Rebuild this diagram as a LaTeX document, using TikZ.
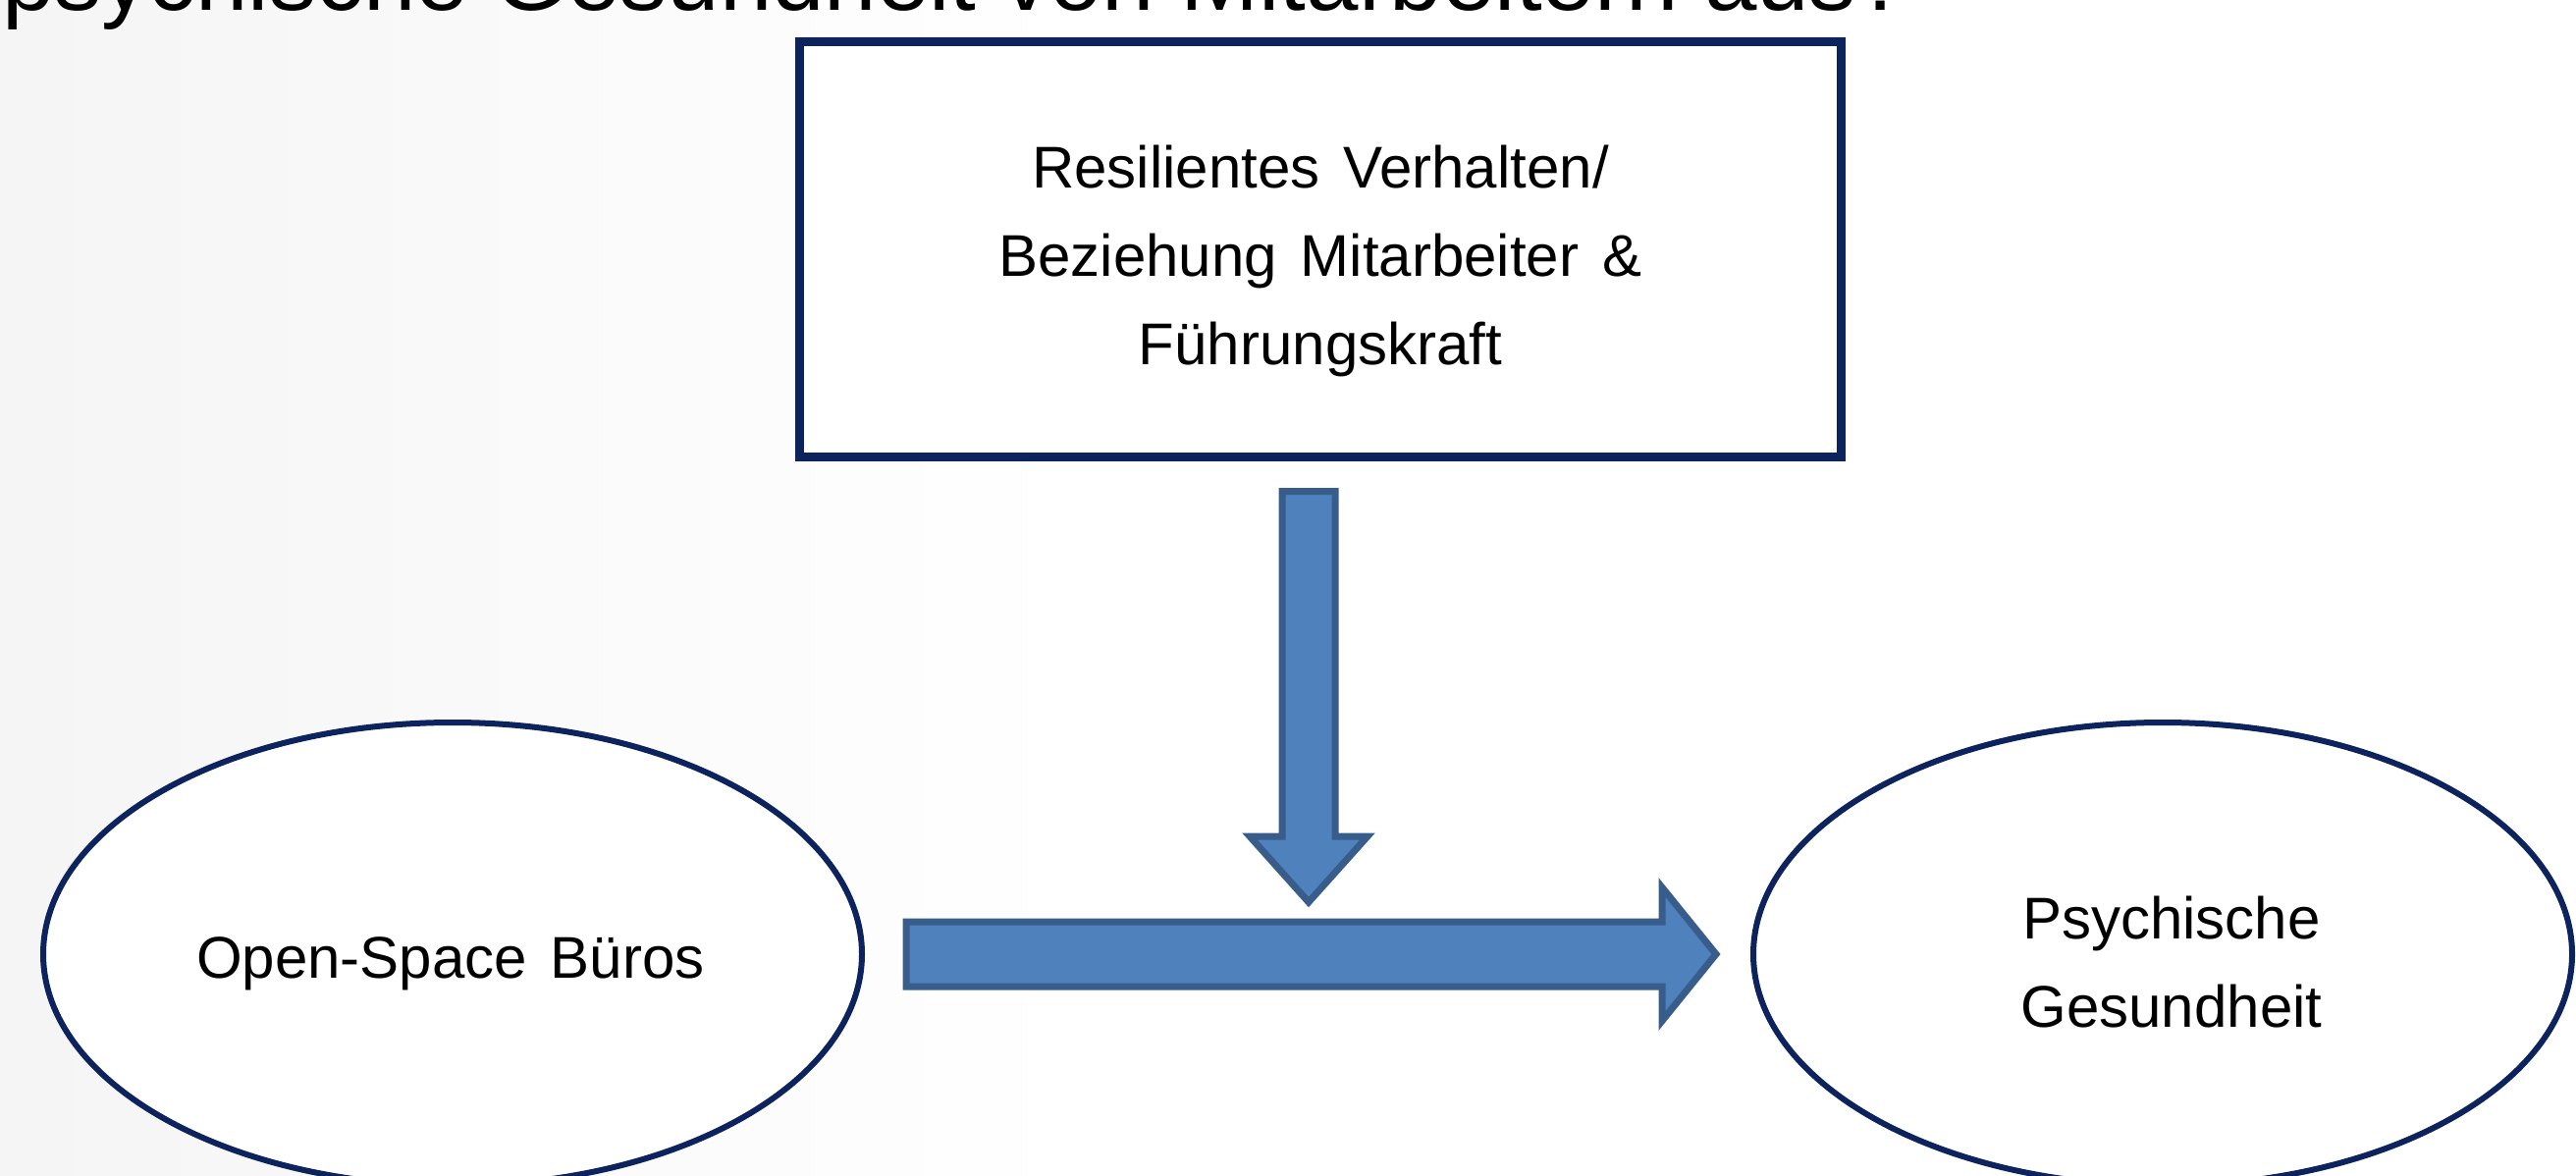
\documentclass[tikz,border=0pt]{standalone}
\usepackage{fontspec}
\setmainfont{Liberation Sans}
\usetikzlibrary{calc,shapes.geometric}
\definecolor{navy}{RGB}{12,35,94}
\definecolor{arrowfill}{HTML}{4F81BD}
\definecolor{arrowline}{HTML}{385D8A}
\newcommand\widespaces{\spaceskip 0.4em plus 0.1em\relax}
\newcommand\lblfont{\fontsize{60pt}{90pt}\selectfont\widespaces}
\newcommand\titlefont{\fontsize{96pt}{110pt}\selectfont}
% #1 start, #2 tip, #3 half shaft width, #4 half head width, #5 head length
\newcommand\blockarrow[5]{%
  \path (#1) coordinate (ba-s) (#2) coordinate (ba-e)
        ($(#2)!#5!(#1)$) coordinate (ba-h);
  \draw[blockarrowstyle]
    ($(ba-s)!#3!90:(ba-e)$) -- ($(ba-h)!#3!-90:(ba-s)$) --
    ($(ba-h)!#4!-90:(ba-s)$) -- (ba-e) --
    ($(ba-h)!#4!90:(ba-s)$) -- ($(ba-h)!#3!90:(ba-s)$) --
    ($(ba-s)!#3!-90:(ba-e)$) -- cycle;}
\begin{document}
\begin{tikzpicture}[x=1pt,y=-1pt,
  lbl/.style={font=\lblfont, align=center, inner sep=0pt, text=black},
  boxstyle/.style={draw=navy, line width=9pt, rectangle, fill=white,
                   minimum width=1061pt, minimum height=423pt,
                   inner sep=0pt, outer sep=0pt},
  ellstyle/.style={draw=navy, line width=6pt, ellipse, fill=white,
                   minimum width=834pt, minimum height=472pt,
                   inner sep=0pt, outer sep=0pt},
  blockarrowstyle/.style={fill=arrowfill, draw=arrowline, line width=7pt,
                          line join=miter},
  titlestyle/.style={font=\titlefont, inner sep=0pt,
                     anchor=base west, text=black}]
\useasboundingbox (0,0) rectangle (2624,1198);
\clip (0,0) rectangle (2624,1198);
\fill[white] (0,0) rectangle (2624,1198);
\shade[left color=black!4, right color=white] (0,0) rectangle (1100,1198);

% title (cut off at the top)
\node[titlestyle] (title) at (2,11) {psychische Gesundheit von Mitarbeitern aus?};

% nodes
\node[boxstyle] (box) at (1345,254) {};
\node[lbl] (boxlabel) at (1345,266)
  {Resilientes Verhalten/\\Beziehung Mitarbeiter \&\\Führungskraft};

\node[ellstyle] (left) at (461,972) {};
\node[lbl] (leftlabel) at (459,982) {Open-Space Büros};

\node[ellstyle] (right) at (2203,972) {};
\node[lbl] (rightlabel) at (2212,980) {Psychische\\Gesundheit};

% connectors
\coordinate (hs) at ([xshift=45pt]left.east);
\coordinate (he) at ([xshift=-38pt]right.west);
\blockarrow{hs}{he}{33pt}{68pt}{55pt}

\coordinate (vs) at ([xshift=-12pt,yshift=-35pt]box.south);
\coordinate (ve) at ($(vs |- hs)+(0,-53)$);
\blockarrow{vs}{ve}{27pt}{60pt}{67pt}
\end{tikzpicture}
\end{document}
